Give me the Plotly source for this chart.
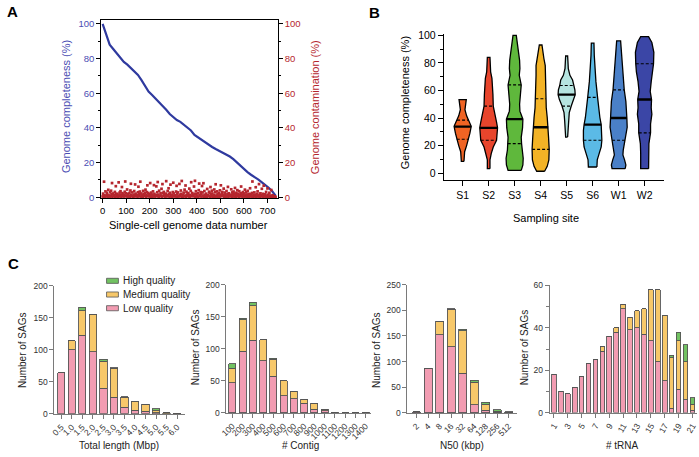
import plotly.graph_objects as go
import numpy as np

W, H = 699, 457
FONT = "Liberation Sans, Arial, sans-serif"


def px(x):
    return x / W


def py(y):
    return 1 - y / H

# ---------------- Panel A data ----------------
comp_x = [0, 5, 10, 15, 20, 30, 45, 60, 75, 90, 105, 120, 135, 150, 165, 180, 195, 210, 225,
          240, 255, 270, 285, 300, 315, 330, 345, 360, 375, 390, 405, 420, 435, 450, 465, 480,
          495, 510, 525, 540, 555, 570, 585, 600, 615, 630, 645, 660, 675, 690, 705, 720, 730, 735]
comp_y = [100, 98, 95, 93, 91.5, 88, 85.5, 83, 80, 78, 76.5, 74.5, 72.5, 70.5, 67.5, 64, 61, 59, 57,
          55, 53, 50.5, 48, 46, 44.5, 43.5, 42, 40, 38.5, 36, 34.5, 33, 31.5, 30, 29, 27.8,
          26.8, 25.8, 24.8, 23.5, 22, 20, 18, 16, 14.5, 13, 11.8, 10.3, 8.8, 7.3, 5.5, 3.5, 1.5, 0.8]

contam = [
    0.5, 2.1, 0.3, 9.0, 1.2, 0.0, 3.4, 0.6, 0.8, 2.6, 1.5, 0.2, 4.3, 0.9, 1.0, 0.4, 2.9, 0.6, 3.8, 1.7, 8.2, 0.1, 2.2,
    1.1, 0.9, 1.4, 3.1, 0.3, 6.4, 2.0, 0.7, 1.9, 0.4, 0.2, 8.6, 1.1, 2.7, 0.5, 3.5, 1.3, 0.0, 5.9, 2.4, 0.8, 1.2, 1.6,
    0.4, 3.2, 9.1, 1.0, 2.3, 0.6, 4.5, 0.2, 1.8, 0.7, 0.9, 2.5, 0.3, 3.9, 7.8, 1.2, 0.7, 2.8, 0.5, 0.1, 1.5, 3.6, 0.5,
    7.4, 2.1, 0.8, 1.1, 1.3, 0.0, 2.9, 6.1, 0.6, 1.7, 3.3, 9.0, 0.4, 2.2, 0.9, 1.0, 0.3, 3.7, 1.9, 1.4, 0.7, 2.6, 4.4,
    0.2, 1.4, 3.0, 6.9, 0.8, 2.4, 0.5, 1.7, 1.1, 8.2, 0.3, 2.7, 0.5, 1.6, 0.0, 3.4, 0.9, 7.0, 2.0, 0.4, 1.0, 1.2, 6.3,
    0.6, 2.9, 8.8, 1.5, 0.2, 3.8, 0.8, 0.7, 2.3, 1.0, 4.9, 0.1, 7.6, 2.5, 0.8, 3.1, 1.7, 0.6, 0.4, 2.1, 9.3, 1.3, 0.5,
    3.6, 0.9, 5.2, 1.8, 0.3, 2.6, 7.3, 0.6, 1.2, 1.4, 0.0, 3.0, 8.4, 2.2, 0.7, 0.7, 1.1, 0.4, 3.3, 6.6, 1.9, 0.2, 2.8,
    0.6, 0.8, 7.7, 1.5, 0.5, 3.9, 2.0, 9.4, 0.3, 1.2, 0.4, 2.7, 0.6, 4.4, 1.0, 6.8, 0.1, 3.2, 1.6, 0.9, 1.2, 2.4, 0.4,
    5.0, 1.3, 0.2, 3.7, 8.7, 0.8, 2.5, 1.3, 1.1, 0.5, 6.2, 2.0, 9.5, 0.3, 3.5, 1.7, 0.7, 0.6, 2.3, 0.1, 4.1, 7.9, 1.4,
    0.6, 3.0, 1.9, 0.4, 6.5, 2.8, 1.0, 8.1, 0.2, 3.6, 1.5, 0.1, 0.9, 2.1, 0.3, 4.8, 1.0, 1.2, 0.6, 3.2, 2.6, 0.0, 5.9,
    1.6, 0.5, 3.8, 2.2, 0.3, 0.8, 1.3, 4.5, 0.3, 2.9, 7.5, 1.0, 0.4, 3.4, 1.8, 0.3, 0.7, 2.4, 0.1, 4.0, 1.4, 6.9, 0.6,
    2.0, 3.1, 0.9, 1.2, 5.0, 0.2, 2.7, 1.6, 0.2, 0.5, 3.6, 0.8, 1.9, 6.0, 0.3, 2.3, 1.1, 0.9, 0.6, 1.5, 4.6, 0.2, 2.8,
    0.9, 1.7, 3.3, 0.4, 2.1, 5.4, 1.0, 0.3, 2.6, 1.4, 4.1, 0.7, 1.9, 0.2, 3.5, 1.2, 0.5, 2.4, 6.2, 0.8, 1.5, 0.1, 3.0,
    1.8, 0.6, 2.2, 4.4, 0.4, 1.1, 2.9, 0.3, 1.6, 3.7, 0.9, 0.2, 2.0, 1.3, 5.2, 0.6, 1.8, 0.4, 2.5, 9.1, 1.0, 0.3, 1.4,
    2.8, 0.5, 1.2, 5.8, 0.2, 1.9, 0.7, 3.4, 1.0, 0.4, 7.6, 1.6, 0.3, 2.3, 0.8, 1.1, 4.9, 0.5, 2.0, 0.2, 6.7, 1.3, 0.6,
    1.7, 0.3, 3.1, 0.9, 0.4, 5.1, 1.5, 0.2, 0.8, 2.6, 0.5, 1.0, 0.3, 4.2, 0.7, 0.1, 1.2, 0.4, 0.6, 0.2, 0.5, 0.3, 0.1,
]
contam_x = list(range(0, 2 * len(contam), 2))

a_ticks_x = [0, 100, 200, 300, 400, 500, 600, 700]
a_ticks_y = [0, 20, 40, 60, 80, 100]

# ---------------- Panel B data ----------------
sites = ["S1", "S2", "S3", "S4", "S5", "S6", "W1", "W2"]
site_colors = ["#f06424", "#e8452c", "#5fb83c", "#f3b326", "#b5e4e0", "#5bbae6", "#4a80c8", "#3b46a6"]
medians = [33.8, 32.9, 39.2, 33.3, 57.0, 35.2, 40.0, 53.4]
q1s = [24.6, 23.9, 21.5, 17.3, 48.7, 23.9, 23.9, 29.3]
q3s = [38.5, 48.7, 64.0, 54.0, 63.6, 55.0, 60.5, 79.4]

s1_y = [8.5, 12, 15.6, 20, 24.6, 29, 34, 38.5, 41.6, 46, 50, 53.4]
s1_w = [4, 4, 6, 12, 18, 22, 26, 17, 12, 7, 10, 11]
s2_y = [3.3, 9.7, 14.4, 19, 23.9, 28.6, 33, 37, 42.8, 48.7, 57, 63, 68.8, 73.5, 80.6, 84]
s2_w = [4, 4, 8, 14, 24, 26, 27, 24, 20, 14, 13, 12, 10, 6, 5, 4]
s3_y = [2, 6, 10.9, 16.8, 21.5, 26, 33, 39.2, 45, 50, 57, 64, 71, 75.9, 81.8, 87.7, 94.8, 100]
s3_w = [20, 25, 26, 22, 21, 20, 24, 25, 16, 15, 18, 20, 14, 16, 15, 12, 8, 5]
s4_y = [1.4, 5, 9.7, 17.3, 26.2, 33.3, 40.4, 47.5, 54, 63, 71, 78, 83, 87.7, 93]
s4_w = [12, 20, 25, 26, 24, 23, 20, 17, 16, 15, 14, 14, 10, 7, 4]
s5_y = [26.2, 33.3, 38, 44, 48.7, 53.4, 57, 60.5, 63.6, 67.6, 71, 75.9, 80.6, 85]
s5_w = [3, 5, 6, 8, 14, 22, 26, 25, 21, 18, 10, 5, 4, 3]
s6_y = [4.5, 9.7, 14.4, 19, 23.9, 31, 35.2, 40.4, 47.5, 55, 66.4, 75.9, 85.3, 94.3]
s6_w = [13, 14, 20, 26, 28, 28, 26, 22, 18, 15, 10, 7, 5, 4]
w1_y = [3.3, 6, 9.7, 13.2, 16.8, 23.9, 33.3, 40, 45, 52, 60.5, 71, 80.6, 90, 96]
w1_w = [20, 22, 18, 13, 14, 20, 26, 25, 24, 22, 17, 14, 10, 8, 6]
w2_y = [3.3, 7.3, 14.4, 21.5, 29.3, 35.7, 42.8, 47.5, 53.4, 59.3, 66.4, 73.5, 79.4, 87.7, 94.8, 99]
w2_w = [12, 12, 12, 13, 18, 18, 22, 20, 21, 17, 20, 25, 27, 28, 22, 12]
violin_y = [s1_y, s2_y, s3_y, s4_y, s5_y, s6_y, w1_y, w2_y]
violin_w = [s1_w, s2_w, s3_w, s4_w, s5_w, s6_w, w1_w, w2_w]
b_ticks_y = [0, 20, 40, 60, 80, 100]

# ---------------- Panel C data ----------------
len_labels = ["0.5", "1.0", "1.5", "2.0", "2.5", "3.0", "3.5", "4.0", "4.5", "5.0", "5.5", "6.0"]
len_low = [64, 100, 123, 97, 40, 26, 10, 6, 4, 2, 0, 0]
len_med = [0, 14, 38, 58, 42, 45, 16, 13, 11, 3, 2, 1]
len_high = [0, 0, 5, 0, 3, 1, 1, 1, 0, 3, 0, 0]

contig_labels = ["100", "200", "300", "400", "500", "600", "700", "800", "900", "1000",
                 "1100", "1200", "1300", "1400"]
contig_low = [47, 96, 113, 81, 57, 27, 22, 15, 6, 3, 1, 0, 0, 0]
contig_med = [23, 49, 54, 33, 27, 23, 12, 6, 9, 3, 0, 0, 0.5, 1]
contig_high = [7, 3, 6, 0, 1, 0, 0, 0, 0, 0, 0, 0, 0, 0]

n50_labels = ["2", "4", "8", "16", "32", "64", "128", "256", "512"]
n50_low = [2, 87, 152, 129, 77, 16, 5, 1, 0]
n50_med = [0, 0, 27, 73, 83, 44, 12, 2, 1]
n50_high = [0, 0, 0, 1, 3, 4, 4, 3, 1]

trna_labels = [str(i) for i in range(1, 22)]
trna_low = [18, 10, 9, 12, 17, 23, 25, 29, 36, 38, 49, 39, 40, 37, 34, 24, 15, 2, 11, 6, 1]
trna_med = [0, 0, 0, 0, 0, 0, 0, 2, 0, 2, 2, 6, 8, 12, 24, 34, 31, 24, 23, 18, 3]
trna_high = [0, 0, 0, 0, 0, 0, 0, 0, 0, 0, 0, 0, 0, 0, 0, 0, 0, 1, 4, 8, 3]
trna_ticks = ["1", "3", "5", "7", "9", "11", "13", "15", "17", "19", "21"]

quality_names = ["Low quality", "Medium quality", "High quality"]
quality_colors = ["#f29cb2", "#f7c86a", "#72c262"]

BLUE_TXT = "#4b4db3"
BLUE_LINE = "#2f3a9f"
RED = "#b5262e"

fig = go.Figure()

# Panel A traces
fig.add_trace(go.Scatter(x=comp_x, y=comp_y, mode="lines", line=dict(color=BLUE_LINE, width=2.2),
                         xaxis="x", yaxis="y", showlegend=False, hoverinfo="skip"))
fig.add_trace(go.Scatter(x=contam_x, y=contam, mode="markers",
                         marker=dict(color=RED, size=2.7, symbol="square", line=dict(width=0)),
                         xaxis="x", yaxis="y2", showlegend=False, cliponaxis=False))

# Panel B violins
for i in range(len(sites)):
    ys = np.array(violin_y[i], dtype=float)
    ws = np.array(violin_w[i], dtype=float) / 79.0
    xs = np.concatenate([i + ws, (i - ws)[::-1], [i + ws[0]]])
    yy = np.concatenate([ys, ys[::-1], [ys[0]]])
    fig.add_trace(go.Scatter(x=xs, y=yy, mode="lines", fill="toself", fillcolor=site_colors[i],
                             line=dict(color="black", width=1.3), xaxis="x2", yaxis="y3",
                             showlegend=False, hoverinfo="skip"))
    for val, dash, lw in [(q1s[i], "3px,2px", 1.2), (q3s[i], "3px,2px", 1.2), (medians[i], "solid", 2.4)]:
        hw = float(np.interp(val, ys, ws))
        fig.add_trace(go.Scatter(x=[i - hw, i + hw], y=[val, val], mode="lines",
                                 line=dict(color="black", width=lw, dash=dash),
                                 xaxis="x2", yaxis="y3", showlegend=False, hoverinfo="skip"))

# Panel C bars
panels = [
    (len_labels, [len_low, len_med, len_high], "x3", "y4"),
    (contig_labels, [contig_low, contig_med, contig_high], "x4", "y5"),
    (n50_labels, [n50_low, n50_med, n50_high], "x5", "y6"),
    (trna_labels, [trna_low, trna_med, trna_high], "x6", "y7"),
]
for labels, series, xa, ya in panels:
    for k in range(3):
        fig.add_trace(go.Bar(x=labels, y=series[k], name=quality_names[k],
                             marker=dict(color=quality_colors[k], line=dict(color="#555555", width=0.9)),
                             width=0.68, xaxis=xa, yaxis=ya, showlegend=False))

base_axis = dict(showgrid=False, zeroline=False, showline=True, ticks="outside")

lay = dict(
    width=W, height=H, margin=dict(l=0, r=0, t=0, b=0),
    paper_bgcolor="white", plot_bgcolor="white",
    font=dict(family=FONT, size=10, color="black"),
    barmode="stack", bargap=0.3, showlegend=False,
)

# Panel A axes
lay["xaxis"] = dict(base_axis, domain=[px(95.3), px(274)], range=[-6, 744], anchor="y",
                    linecolor="black", linewidth=1, mirror=True, tickcolor="black", ticklen=4,
                    tickvals=a_ticks_x, tickfont=dict(size=9.5, color="black"))
lay["yaxis"] = dict(base_axis, domain=[py(197.3), py(15)], range=[-0.4, 102.4], anchor="x",
                    linecolor="black", linewidth=1, tickcolor="black", ticklen=4,
                    tickvals=a_ticks_y, tickfont=dict(size=9.5, color=BLUE_TXT),
                    minor=dict(ticks="outside", ticklen=2, tickcolor="black", tickvals=[10, 30, 50, 70, 90]))
lay["yaxis2"] = dict(base_axis, overlaying="y", side="right", range=[-0.4, 102.4], anchor="x",
                     linecolor="black", linewidth=1, tickcolor="black", ticklen=4,
                     tickvals=a_ticks_y, tickfont=dict(size=9.5, color=RED),
                     minor=dict(ticks="outside", ticklen=2, tickcolor="black", tickvals=[10, 30, 50, 70, 90]))

# Panel B axes
lay["xaxis2"] = dict(base_axis, domain=[px(442), px(665)], range=[-0.72, 7.76], anchor="y3",
                     linecolor="black", linewidth=1.3, tickcolor="black", ticklen=5, tickwidth=1.2,
                     tickvals=list(range(len(sites))), ticktext=sites, tickfont=dict(size=10.5))
lay["yaxis3"] = dict(base_axis, domain=[py(179), py(29.6)], range=[-5, 101], anchor="x2",
                     linecolor="black", linewidth=1.3, tickcolor="black", ticklen=5, tickwidth=1.2,
                     tickvals=b_ticks_y, tickfont=dict(size=10.5),
                     minor=dict(ticks="outside", ticklen=3, tickcolor="black", tickvals=[10, 30, 50, 70, 90]))

# Panel C axes
cax = dict(base_axis, linecolor="#7a7a7a", linewidth=1, tickcolor="#7a7a7a", ticklen=4,
           tickfont=dict(size=8.5, color="#333333"))
lay["xaxis3"] = dict(cax, domain=[px(48), px(180)], range=[-0.66, 11.75], anchor="y4",
                     type="category", tickangle=-45)
lay["yaxis4"] = dict(cax, domain=[py(418), py(287)], range=[0, 200], anchor="x3",
                     tickvals=[0, 50, 100, 150, 200])
lay["xaxis4"] = dict(cax, domain=[px(222), px(368)], range=[-0.58, 13.5], anchor="y5",
                     type="category", tickangle=-45)
lay["yaxis5"] = dict(cax, domain=[py(417), py(286)], range=[0, 200], anchor="x4",
                     tickvals=[0, 50, 100, 150, 200])
lay["xaxis5"] = dict(cax, domain=[px(405), px(516)], range=[-0.8, 8.73], anchor="y6",
                     type="category", tickangle=-45)
lay["yaxis6"] = dict(cax, domain=[py(417), py(286)], range=[0, 250], anchor="x5",
                     tickvals=[0, 50, 100, 150, 200, 250])
lay["xaxis6"] = dict(cax, domain=[px(549), px(698)], range=[-0.61, 20.67], anchor="y7",
                     type="category", tickangle=-60, tickmode="array", tickvals=trna_ticks, ticktext=trna_ticks)
lay["yaxis7"] = dict(cax, domain=[py(416.7), py(286.7)], range=[0, 60], anchor="x6",
                     tickvals=[0, 20, 40, 60],
                     minor=dict(ticks="outside", ticklen=3, tickcolor="#7a7a7a", tickvals=[10, 30, 50]))

fig.update_layout(**lay)

ann = []


def add_text(x, y, text, size=11, color="black", angle=0, bold=False, xanchor="center"):
    ann.append(dict(x=px(x), y=py(y), xref="paper", yref="paper", text=("<b>%s</b>" % text) if bold else text,
                    showarrow=False, textangle=angle, xanchor=xanchor, yanchor="middle",
                    font=dict(family=FONT, size=size, color=color)))


add_text(6, 7, "A", size=15, bold=True)
add_text(372, 8, "B", size=15, bold=True)
add_text(7, 264, "C", size=15, bold=True)

add_text(59, 104, "Genome completeness (%)", size=11, color=BLUE_TXT, angle=-90)
add_text(311, 104, "Genome contamination (%)", size=11, color=RED, angle=-90)
add_text(184, 225, "Single-cell genome data number", size=11)

add_text(402, 100, "Genome completeness (%)", size=11, angle=-90)
add_text(545, 218, "Sampling site", size=11)

add_text(15, 353, "Number of SAGs", size=10, color="#222222", angle=-90)
add_text(191, 350, "Number of SAGs", size=10, color="#222222", angle=-90)
add_text(374, 353, "Number of SAGs", size=10, color="#222222", angle=-90)
add_text(523, 350, "Number of SAGs", size=10, color="#222222", angle=-90)
add_text(113, 450, "Total length (Mbp)", size=10, color="#222222")
add_text(297, 450, "# Contig", size=10, color="#222222")
add_text(460, 450, "N50 (kbp)", size=10, color="#222222")
add_text(623, 450, "# tRNA", size=10, color="#222222")

# manual legend (High, Medium, Low)
shapes = []
leg_rows = [(282, 2), (296, 1), (310, 0)]
for yc, k in leg_rows:
    shapes.append(dict(type="rect", xref="paper", yref="paper", x0=px(100.7), x1=px(112.7),
                       y0=py(yc + 2.6), y1=py(yc - 2.6), fillcolor=quality_colors[k],
                       line=dict(color="#555555", width=0.8)))
    add_text(115.7, yc, quality_names[k], size=10, color="#222222", xanchor="left")

fig.update_layout(annotations=ann, shapes=shapes)
fig.write_html("out.html", config={"displayModeBar": False},
               post_script="document.body.style.margin='0';document.body.style.overflow='hidden';")
